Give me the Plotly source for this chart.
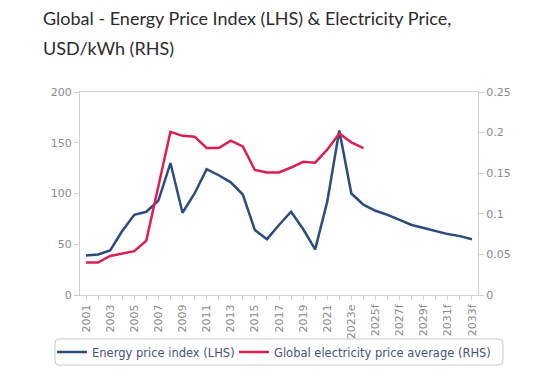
import plotly.graph_objects as go

categories = [str(y) for y in range(2001, 2023)] + ["2023e"] + [f"{y}f" for y in range(2024, 2034)]
tick_labels = [c if i % 2 == 0 else "" for i, c in enumerate(categories)]

energy_index = [39, 40, 44, 63, 79, 82, 93, 130, 81, 100, 124, 118, 111, 99, 64, 55, 69, 82, 65, 45,
                92, 162, 100, 89, 83, 79, 74, 69, 66, 63, 60, 58, 55]
elec_price = [0.040, 0.040, 0.048, 0.051, 0.054, 0.067, 0.133, 0.201, 0.196, 0.195, 0.181, 0.181,
              0.190, 0.183, 0.154, 0.151, 0.151, 0.157, 0.164, 0.163, 0.179, 0.199, 0.188, 0.181]

BLUE = "#2b4c7e"
RED = "#dc1f50"
AXIS = "#cfcfcf"
TICKFONT = dict(family="DejaVu Sans", size=11, color="#8a8a8a")
LEGFONT = dict(family="DejaVu Sans", size=11.5, color="#44557a")
TITLEFONT = dict(family="Lato", size=18, color="#2b2b2b")

# figure is offset by the page's 8px body margin
W, H = 552, 371
L, T, PW, PH = 72, 84, 398, 203


def px(x):
    return (x - 8 - L) / PW


def py(y):
    return (T + PH - (y - 8)) / PH


fig = go.Figure()
fig.add_trace(go.Scatter(x=categories, y=energy_index, mode="lines", name="Energy price index (LHS)",
                         line=dict(color=BLUE, width=2.5), legend="legend"))
fig.add_trace(go.Scatter(x=categories[:len(elec_price)], y=elec_price, mode="lines",
                         name="Global electricity price average (RHS)",
                         line=dict(color=RED, width=2.5), yaxis="y2", legend="legend2"))

leg_common = dict(xref="container", yref="container", xanchor="left", yanchor="middle",
                  y=1 - (352 - 8) / H, borderwidth=0, bgcolor="rgba(0,0,0,0)", font=LEGFONT)

# rounded legend border
x0, x1, y0, y1 = px(55), px(503), py(339), py(365)
rx, ry = 4 / PW, 4 / PH
path = (f"M {x0+rx},{y0} L {x1-rx},{y0} Q {x1},{y0} {x1},{y0-ry} L {x1},{y1+ry} Q {x1},{y1} {x1-rx},{y1} "
        f"L {x0+rx},{y1} Q {x0},{y1} {x0},{y1+ry} L {x0},{y0-ry} Q {x0},{y0} {x0+rx},{y0} Z")

fig.update_layout(
    width=W, height=H,
    margin=dict(l=L, r=W - L - PW, t=T, b=H - T - PH, autoexpand=False),
    paper_bgcolor="white", plot_bgcolor="white",
    showlegend=True,
    legend=dict(x=(52 - 8) / W, **leg_common),
    legend2=dict(x=(234 - 8) / W, **leg_common),
    shapes=[dict(type="path", path=path, xref="paper", yref="paper",
                 line=dict(color="#c8c8c8", width=1), layer="above")],
    xaxis=dict(type="category", categoryorder="array", categoryarray=categories,
               range=[-0.5, len(categories) - 0.5], automargin=False,
               tickmode="array", tickvals=categories, ticktext=tick_labels,
               tickangle=-90, tickfont=TICKFONT, ticks="outside", ticklen=4, tickcolor=AXIS,
               showline=True, linecolor=AXIS, linewidth=1, mirror=True, showgrid=False, zeroline=False),
    yaxis=dict(range=[0, 200], dtick=50, tickfont=TICKFONT, ticks="outside", ticklen=5, tickcolor=AXIS,
               automargin=False,
               showline=True, linecolor=AXIS, linewidth=1, showgrid=False, zeroline=False),
    yaxis2=dict(range=[0, 0.25], dtick=0.05, overlaying="y", side="right", tickfont=TICKFONT,
                ticks="outside", ticklen=5, tickcolor=AXIS, automargin=False,
                showline=True, linecolor=AXIS, linewidth=1, showgrid=False, zeroline=False),
    annotations=[
        dict(text="Global - Energy Price Index (LHS) & Electricity Price,", xref="paper", yref="paper",
             x=px(41), y=py(18), xanchor="left", yanchor="middle", showarrow=False, font=TITLEFONT),
        dict(text="USD/kWh (RHS)", xref="paper", yref="paper",
             x=px(41), y=py(48), xanchor="left", yanchor="middle", showarrow=False, font=TITLEFONT),
    ],
)

fig.write_html("out.html")
